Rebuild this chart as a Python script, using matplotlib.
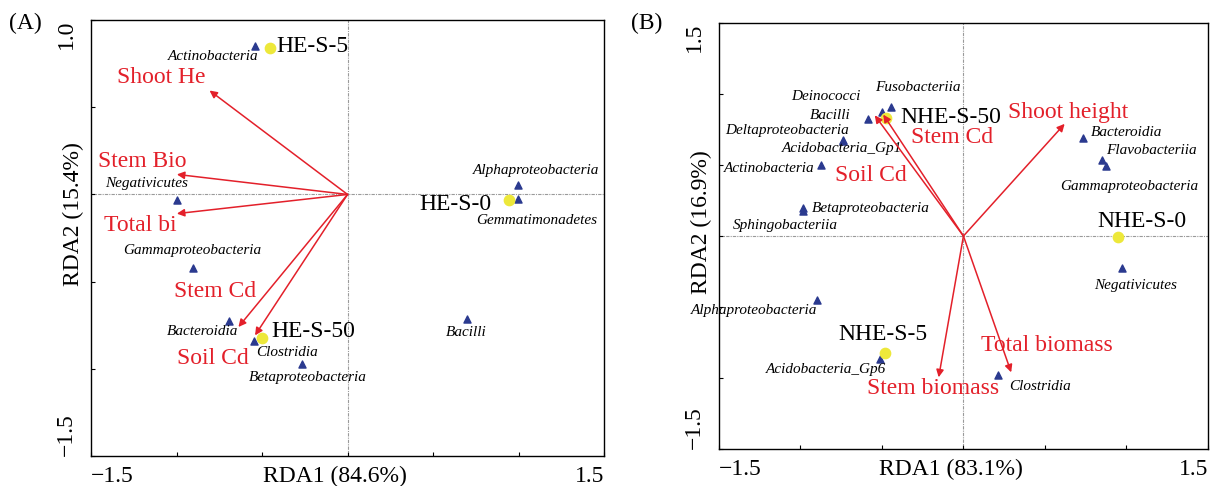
import numpy as np
import matplotlib
matplotlib.use("Agg")
import matplotlib.pyplot as plt

RED = "#E3202A"; NAVY = "#2B3A8F"; YELLOW = "#EDE83A"; GREY = "#9A9A9A"
plt.rcParams.update({"font.family": ["Liberation Serif", "DejaVu Serif"],
                     "font.size": 17})

# ---- panel A ---------------------------------------------------------------
a_taxa = ["Actinobacteria", "Negativicutes", "Alphaproteobacteria",
          "Gemmatimonadetes", "Gammaproteobacteria", "Bacteroidia",
          "Clostridia", "Betaproteobacteria", "Bacilli"]
a_taxa_x = [-0.541, -0.998, 0.996, 0.996, -0.906, -0.696, -0.548, -0.266, 0.70]
a_taxa_y = [0.85, -0.033, 0.052, -0.025, -0.423, -0.725, -0.842, -0.973, -0.715]
a_taxa_lx = [-0.786, -1.176, 1.10, 1.107, -0.91, -0.848, -0.356, -0.233, 0.696]
a_taxa_ly = [0.79, 0.062, 0.135, -0.148, -0.323, -0.785, -0.908, -1.048, -0.79]

a_samples = ["HE-S-5", "HE-S-0", "HE-S-50"]
a_samp_x = [-0.453, 0.945, -0.50]
a_samp_y = [0.837, -0.029, -0.821]
a_samp_lx = [-0.414, 0.63, -0.448]
a_samp_ly = [0.846, -0.058, -0.788]
a_samp_ha = ["left", "center", "left"]

a_env = ["Shoot He", "Stem Bio", "Total bi", "Stem Cd", "Soil Cd"]
a_env_x = [-0.807, -0.998, -0.998, -0.638, -0.541]
a_env_y = [0.596, 0.115, -0.11, -0.76, -0.808]
a_env_lx = [-1.09, -1.20, -1.21, -0.772, -0.79]
a_env_ly = [0.67, 0.19, -0.18, -0.554, -0.942]

# ---- panel B ---------------------------------------------------------------
b_taxa = ["Fusobacteriia", "Deinococci", "Bacilli", "Deltaproteobacteria",
          "Acidobacteria_Gp1", "Actinobacteria", "Betaproteobacteria",
          "Sphingobacteriia", "Bacteroidia", "Flavobacteriia",
          "Gammaproteobacteria", "Negativicutes", "Alphaproteobacteria",
          "Acidobacteria_Gp6", "Clostridia"]
b_taxa_x = [-0.443, -0.497, -0.584, -0.738, -0.738, -0.872, -0.984, -0.984,
            0.731, 0.848, 0.874, 0.975, -0.898, -0.509, 0.211]
b_taxa_y = [0.909, 0.874, 0.827, 0.679, 0.670, 0.499, 0.194, 0.178,
            0.691, 0.534, 0.492, -0.222, -0.45, -0.866, -0.979]
b_taxa_lx = [-0.277, -0.844, -0.82, -1.085, -0.745, -1.193, -0.569, -1.094,
             0.998, 1.155, 1.02, 1.055, -1.284, -0.844, 0.469]
b_taxa_ly = [1.045, 0.982, 0.848, 0.746, 0.615, 0.475, 0.194, 0.075,
             0.73, 0.604, 0.347, -0.347, -0.527, -0.937, -1.06]

b_samples = ["NHE-S-50", "NHE-S-0", "NHE-S-5"]
b_samp_x = [-0.473, 0.949, -0.48]
b_samp_y = [0.831, -0.007, -0.827]
b_samp_lx = [-0.387, 1.097, -0.497]
b_samp_ly = [0.838, 0.105, -0.696]
b_samp_ha = ["left", "center", "center"]

b_env = ["Soil Cd", "Stem Cd", "Shoot height", "Stem biomass", "Total biomass"]
b_env_x = [-0.544, -0.492, 0.621, -0.152, 0.293]
b_env_y = [0.85, 0.855, 0.79, -0.995, -0.96]
b_env_lx = [-0.57, -0.07, 0.645, -0.187, 0.509]
b_env_ly = [0.426, 0.696, 0.871, -1.077, -0.773]


def draw_panel(ax, taxa, tx, ty, tlx, tly, samples, sx, sy, slx, sly, sha,
               env, ex, ey, elx, ely, xlab, ylab, ylim, ylab_pos):
    ax.set_xlim(-1.5, 1.5); ax.set_ylim(*ylim)
    ax.axhline(0, color=GREY, lw=0.8, ls=(0, (3, 1, 1, 1)), zorder=0)
    ax.axvline(0, color=GREY, lw=0.8, ls=(0, (3, 1, 1, 1)), zorder=0)
    ax.scatter(tx, ty, marker="^", s=26, color=NAVY, zorder=2)
    for name, x, y in zip(taxa, tlx, tly):
        ax.text(x, y, name, style="italic", fontsize=11, ha="center",
                va="center", zorder=3)
    ax.scatter(sx, sy, marker="o", s=55, color=YELLOW, zorder=2)
    for name, x, y, ha in zip(samples, slx, sly, sha):
        ax.text(x, y, name, fontsize=17, ha=ha, va="center", zorder=3)
    for name, x, y, lx, ly in zip(env, ex, ey, elx, ely):
        ax.annotate("", xy=(x, y), xytext=(0, 0), zorder=4,
                    arrowprops=dict(arrowstyle="-|>", color=RED, lw=1.1,
                                    mutation_scale=11, shrinkA=0, shrinkB=0))
        ax.text(lx, ly, name, color=RED, fontsize=17, ha="center",
                va="center", zorder=3)
    ax.set_xticks([-1.5, 1.5]); ax.set_xticklabels(["\u22121.5", "1.5"])
    ax.set_xticks(np.arange(-1.0, 1.01, 0.5), minor=True)
    yt = [ylim[0], ylim[1]]
    ax.set_yticks(yt)
    ax.set_yticklabels([("\u2212" if v < 0 else "") + f"{abs(v):.1f}" for v in yt])
    ax.set_yticks(np.arange(ylim[0] + 0.5, ylim[1] - 0.01, 0.5), minor=True)
    ax.tick_params(which="both", direction="in", length=3, width=0.8)
    ax.tick_params(axis="x", pad=7)
    ax.tick_params(axis="y", pad=10, labelrotation=90)
    xl = ax.get_xticklabels(); xl[0].set_ha("left"); xl[1].set_ha("right")
    yl = ax.get_yticklabels(); yl[0].set_va("bottom"); yl[1].set_va("top")
    ax.set_xlabel(xlab); ax.xaxis.set_label_coords(0.475, -0.022)
    ax.set_ylabel(ylab); ax.yaxis.set_label_coords(-0.014, ylab_pos)
    for s in ax.spines.values():
        s.set_linewidth(1.0)


fig = plt.figure(figsize=(12.19, 4.86), dpi=100)
axA = fig.add_axes([0.0747, 0.0617, 0.4208, 0.897])
axB = fig.add_axes([0.5898, 0.0761, 0.4011, 0.8765])

draw_panel(axA, a_taxa, a_taxa_x, a_taxa_y, a_taxa_lx, a_taxa_ly,
           a_samples, a_samp_x, a_samp_y, a_samp_lx, a_samp_ly, a_samp_ha,
           a_env, a_env_x, a_env_y, a_env_lx, a_env_ly,
           "RDA1 (84.6%)", "RDA2 (15.4%)", (-1.5, 1.0), 0.555)
draw_panel(axB, b_taxa, b_taxa_x, b_taxa_y, b_taxa_lx, b_taxa_ly,
           b_samples, b_samp_x, b_samp_y, b_samp_lx, b_samp_ly, b_samp_ha,
           b_env, b_env_x, b_env_y, b_env_lx, b_env_ly,
           "RDA1 (83.1%)", "RDA2 (16.9%)", (-1.5, 1.5), 0.533)

fig.text(0.007, 0.973, "(A)", fontsize=17, va="top")
fig.text(0.518, 0.973, "(B)", fontsize=17, va="top")

fig.savefig("out.png", dpi=100)
plt.close(fig)
